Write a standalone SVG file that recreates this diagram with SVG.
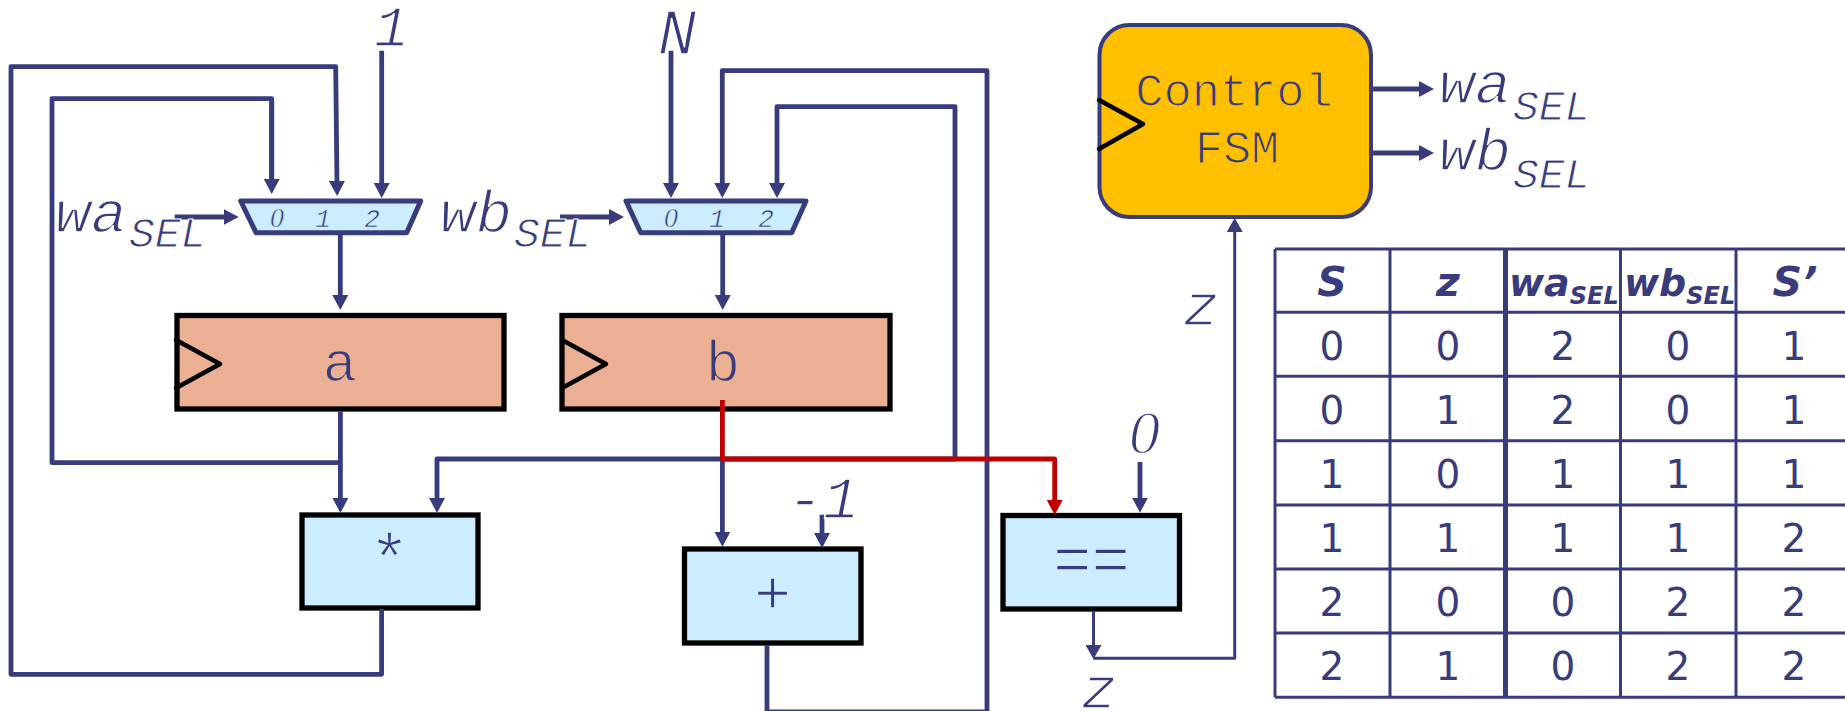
<svg xmlns="http://www.w3.org/2000/svg" width="1845" height="711" viewBox="0 0 1845 711">
<style>
text{fill:#383C7C;font-family:"Liberation Mono",monospace}
.i{font-style:italic;font-size:60px;stroke:#fff;stroke-width:1.4}
.s{font-size:43px;stroke-width:1}
.z{font-family:"Liberation Serif",serif;font-size:62px}
.d{font-style:italic;font-size:26px;text-anchor:middle;stroke:#CCECFF;stroke-width:.5}
.dz{font-family:"Liberation Serif",serif;font-size:28px}
.m{font-size:58px;text-anchor:middle;stroke-width:1.4}
.mo{stroke:#EBB093}
.mb{stroke:#CCECFF}
.o{font-size:47px;text-anchor:middle;stroke:#FFC000;stroke-width:1.2}
.t{font-family:"DejaVu Sans",sans-serif;font-size:39px;text-anchor:middle}
.h{font-family:"DejaVu Sans",sans-serif;font-size:38px;font-weight:bold;font-style:oblique}
.hb{font-size:41px;text-anchor:middle}
.hs{font-size:24px}
.w{fill:none;stroke:#383C7C;stroke-width:4.8;stroke-linejoin:round}
.a{marker-end:url(#ah)}
.thin{stroke-width:3}
.ta{marker-end:url(#th)}
.r{fill:none;stroke:#C00000;stroke-width:4.8;stroke-linejoin:round;marker-end:url(#rh)}
.reg{fill:#EBB093;stroke:#000;stroke-width:5.3}
.alu{fill:#CCECFF;stroke:#000;stroke-width:5.3}
.mux{fill:#CCECFF;stroke:#383C7C;stroke-width:5;stroke-linejoin:round}
.clk{fill:none;stroke:#000;stroke-width:4.5;stroke-linecap:round;stroke-linejoin:round}
.g{stroke:#383C7C;stroke-width:3}
</style>
<defs>
<marker id="ah" markerUnits="userSpaceOnUse" markerWidth="16" markerHeight="16" refX="5" refY="8" orient="auto"><path d="M0 0L15 8L0 16Z" fill="#383C7C"/></marker>
<marker id="rh" markerUnits="userSpaceOnUse" markerWidth="16" markerHeight="16" refX="5" refY="8" orient="auto"><path d="M0 0L15 8L0 16Z" fill="#C00000"/></marker>
<marker id="th" markerUnits="userSpaceOnUse" markerWidth="15" markerHeight="16" refX="4" refY="8" orient="auto"><path d="M0 0L14 8L0 16Z" fill="#383C7C"/></marker>
</defs>
<g id="reg-a"><rect class="reg" x="177" y="315.5" width="327" height="93.5"/><polyline class="clk" points="176,340 220,364 176,388"/><text class="m mo" x="340" y="381">a</text></g>
<g id="reg-b"><rect class="reg" x="562" y="315.5" width="328" height="93.5"/><polyline class="clk" points="562,340 606,364 562,388"/><text class="m mo" x="723" y="381">b</text></g>
<g id="mux-a"><polygon class="mux" points="240.7,201 420.7,201 406.7,232.7 256,232.7"/><text class="d dz" x="277" y="226.5">0</text><text class="d" x="323" y="226.5">1</text><text class="d" x="372" y="226.5">2</text></g>
<g id="mux-b"><polygon class="mux" points="626,201 806,201 791.7,232.7 640.7,232.7"/><text class="d dz" x="671" y="226.5">0</text><text class="d" x="717" y="226.5">1</text><text class="d" x="766" y="226.5">2</text></g>
<g id="mul"><rect class="alu" x="302" y="515" width="176" height="93"/><text class="m mb" x="389.5" y="582" style="font-size:68px">*</text></g>
<g id="add"><rect class="alu" x="684.5" y="549" width="176.5" height="94"/><text class="m mb" x="772.5" y="613" style="font-size:62px">+</text></g>
<g id="eq"><rect class="alu" x="1003" y="515.5" width="176.5" height="93.5"/><text class="m mb" x="1091.5" y="581" style="font-size:64px">==</text></g>
<g id="fsm"><rect x="1099.5" y="25" width="271.5" height="192" rx="30" fill="#FFC000" stroke="#383C7C" stroke-width="4"/><polyline class="clk" points="1099,100 1143,124 1099,149"/><text class="o" x="1234" y="106">Control</text><text class="o" x="1237" y="162.5">FSM</text></g>
<g id="connectors">
<path class="w a" d="M381.6 609V674.3H11V66.7H335.7L337 186"/>
<path class="w" d="M340.4 462.7H52V98.7H271.7V184"/>
<path class="w a" d="M271.7 98.7V184"/>
<path class="w a" d="M340.4 411V503"/>
<path class="w a" d="M381.7 50.7V188"/>
<path class="w a" d="M174.7 217H228.7"/>
<path class="w a" d="M340.3 233V300"/>
<path class="w a" d="M671 50.7V188"/>
<path class="w a" d="M767 645V712H987V70.7H722.3V188"/>
<path class="w a" d="M722.5 459H955V106.7H777V188"/>
<path class="w a" d="M560 217H614"/>
<path class="w a" d="M722.7 233V300"/>
<path class="w a" d="M722.4 459H437V503"/>
<path class="w a" d="M722.4 459V536.7"/>
<path class="w a" d="M822 514.7V538"/>
<path class="w a" d="M1140 462V502.7"/>
<path class="w thin ta" d="M1093.5 611V649"/>
<path class="w thin ta" d="M1093.5 658.3H1234.7V228"/>
<path class="w a" d="M1373 89H1424"/>
<path class="w a" d="M1373 153H1424"/>
<path class="r" d="M722.4 400V459H1054.7V505"/>
</g>
<g id="labels">
<text class="i" x="55" y="231.7">wa<tspan class="s" x="129" y="247.3">SEL</tspan></text>
<text class="i" x="440" y="231.7">wb<tspan class="s" x="514" y="247.3">SEL</tspan></text>
<text class="i" x="1439" y="103">wa<tspan class="s" x="1513" y="120">SEL</tspan></text>
<text class="i" x="1439" y="170">wb<tspan class="s" x="1513" y="188">SEL</tspan></text>
<text class="i" x="374" y="46" style="font-size:58px">1</text>
<text class="i" x="658" y="54" style="font-size:64px">N</text>
<text class="i z" x="1129" y="453">0</text>
<text class="i" x="787" y="518">-1</text>
<text class="i" x="1183" y="325">z</text>
<text class="i" x="1081" y="708">z</text>
</g>
<g id="table">
<path class="g" d="M1275 249H1845M1275 312.3H1845M1275 376.3H1845M1275 440.7H1845M1275 505H1845M1275 569H1845M1275 633H1845M1275 697.3H1845M1275 249V697.3M1390 249V697.3M1620.5 249V697.3M1736 249V697.3"/>
<path class="g" style="stroke-width:5" d="M1505.5 249V697.3"/>
<text class="h hb" x="1332" y="295.7">S</text>
<text class="h hb" x="1448" y="295.7">z</text>
<text class="h" x="1509" y="295.7">wa<tspan class="hs" y="304">SEL</tspan></text>
<text class="h" x="1624" y="295.7">wb<tspan class="hs" y="304">SEL</tspan></text>
<text class="h hb" x="1795" y="295.7">S’</text>
<text class="t" x="1332" y="360">0</text><text class="t" x="1448" y="360">0</text><text class="t" x="1563" y="360">2</text><text class="t" x="1678" y="360">0</text><text class="t" x="1794" y="360">1</text>
<text class="t" x="1332" y="424">0</text><text class="t" x="1448" y="424">1</text><text class="t" x="1563" y="424">2</text><text class="t" x="1678" y="424">0</text><text class="t" x="1794" y="424">1</text>
<text class="t" x="1332" y="488">1</text><text class="t" x="1448" y="488">0</text><text class="t" x="1563" y="488">1</text><text class="t" x="1678" y="488">1</text><text class="t" x="1794" y="488">1</text>
<text class="t" x="1332" y="552">1</text><text class="t" x="1448" y="552">1</text><text class="t" x="1563" y="552">1</text><text class="t" x="1678" y="552">1</text><text class="t" x="1794" y="552">2</text>
<text class="t" x="1332" y="616">2</text><text class="t" x="1448" y="616">0</text><text class="t" x="1563" y="616">0</text><text class="t" x="1678" y="616">2</text><text class="t" x="1794" y="616">2</text>
<text class="t" x="1332" y="680">2</text><text class="t" x="1448" y="680">1</text><text class="t" x="1563" y="680">0</text><text class="t" x="1678" y="680">2</text><text class="t" x="1794" y="680">2</text>
</g>
</svg>
